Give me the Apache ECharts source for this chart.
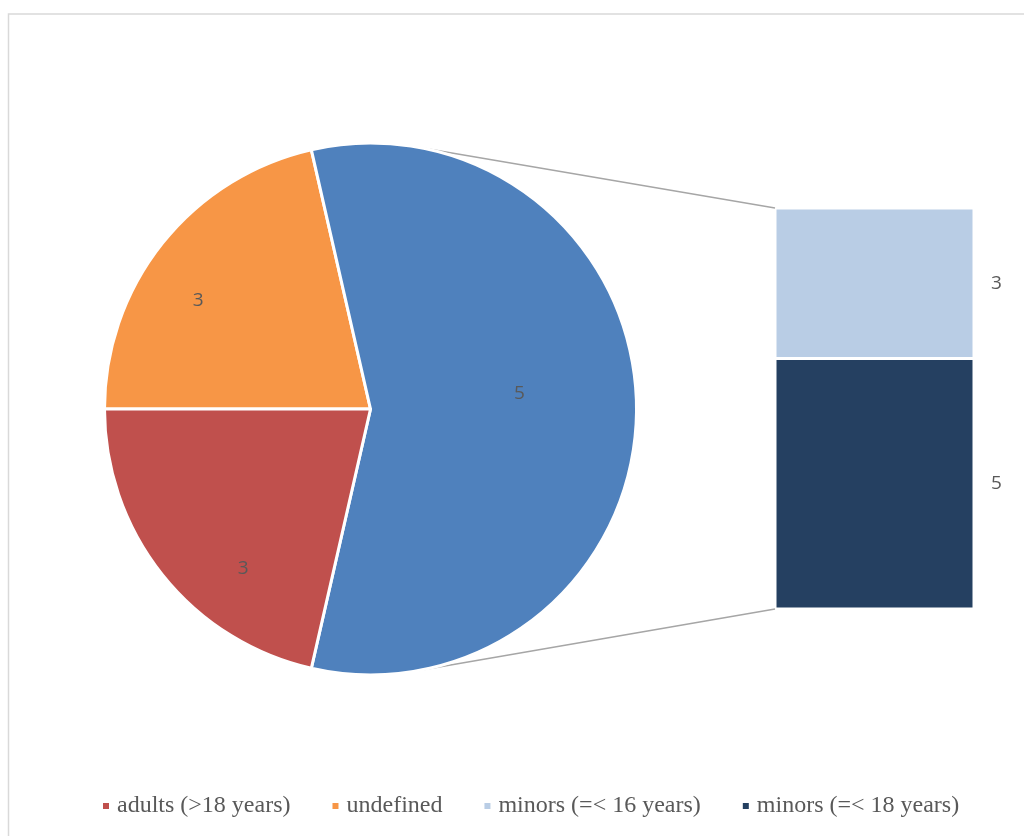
<!DOCTYPE html>
<html>
<head>
<meta charset="utf-8">
<script src="https://cdn.jsdelivr.net/npm/echarts@6/dist/echarts.min.js"></script>
<style>
html,body{margin:0;padding:0;background:#fff;}
#chart{width:1024px;height:836px;}
</style>
</head>
<body>
<div id="chart"></div>
<script>
// ---- data ----
const categories = ['adults (>18 years)', 'undefined', 'minors (=< 16 years)', 'minors (=< 18 years)'];
const values = [3, 3, 3, 5];
const colors = ['#C0504D', '#F79646', '#B9CDE5', '#254061'];
const otherColor = '#4F81BD';
// label Excel shows on the combined "other" slice
const otherLabel = '5';

// ---- layout ----
const pieCenter = [370.5, 409];
const pieRadius = 266;
const barGrid = {left: 775, top: 208, width: 199, height: 401};
const labelShift = [[-66, -24], [13, -15], [-21, 75]]; // per pie slice (orange, other, red)

const otherValue = values[2] + values[3];
const pieData = [
  {name: categories[1], value: values[1], itemStyle: {color: colors[1]}},
  {name: 'other', value: otherValue, itemStyle: {color: otherColor}, label: {formatter: otherLabel}},
  {name: categories[0], value: values[0], itemStyle: {color: colors[0]}}
];

// connector lines: tangents from bar corners to the pie circle
function tangent(P, up) {
  const dx = P[0] - pieCenter[0], dy = P[1] - pieCenter[1];
  const d = Math.sqrt(dx * dx + dy * dy);
  const phi = Math.atan2(dy, dx);
  const a = Math.acos(pieRadius / d);
  const t = up ? phi - a : phi + a;
  return [pieCenter[0] + pieRadius * Math.cos(t), pieCenter[1] + pieRadius * Math.sin(t)];
}
const Ptop = [barGrid.left, barGrid.top], Pbot = [barGrid.left, barGrid.top + barGrid.height];
const Ttop = tangent(Ptop, true), Tbot = tangent(Pbot, false);

const chart = echarts.init(document.getElementById('chart'));
const labelFont = {fontFamily: '"Open Sans", "Liberation Sans", sans-serif', fontSize: 19, color: '#595959'};

chart.setOption({
  animation: false,
  backgroundColor: '#fff',
  legend: {
    data: categories,
    left: 101, top: 794, padding: 0,
    icon: 'rect', itemWidth: 8, itemHeight: 8, itemGap: 40,
    textStyle: {fontFamily: '"Liberation Serif", "Times New Roman", serif', fontSize: 24, color: '#595959', padding: [0, 0, 0, 2]}
  },
  grid: {left: barGrid.left, top: barGrid.top, width: barGrid.width, height: barGrid.height, containLabel: false},
  xAxis: {type: 'category', data: ['minors'], show: false},
  yAxis: {type: 'value', min: 0, max: otherValue, show: false},
  graphic: [
    {type: 'rect', shape: {x: 8.5, y: 14, width: 1040, height: 860}, style: {fill: 'none', stroke: '#D9D9D9', lineWidth: 1.5}, z: 0, silent: true},
    {type: 'line', shape: {x1: Ttop[0], y1: Ttop[1], x2: Ptop[0], y2: Ptop[1]}, style: {stroke: '#A6A6A6', lineWidth: 1.5}, z: 1, silent: true},
    {type: 'line', shape: {x1: Tbot[0], y1: Tbot[1], x2: Pbot[0], y2: Pbot[1]}, style: {stroke: '#A6A6A6', lineWidth: 1.5}, z: 1, silent: true}
  ],
  series: [
    {
      type: 'pie', center: pieCenter, radius: pieRadius,
      startAngle: 180, clockwise: true, avoidLabelOverlap: false,
      data: pieData,
      itemStyle: {borderColor: '#fff', borderWidth: 3},
      label: Object.assign({show: true, position: 'inside', formatter: '{c}'}, labelFont),
      labelLine: {show: false},
      labelLayout: function (p) {
        const s = labelShift[p.dataIndex];
        return {dx: s[0], dy: s[1]};
      },
      emphasis: {disabled: true}, z: 3
    },
    {
      type: 'bar', name: categories[3], stack: 'm', barWidth: '100%',
      data: [values[3]],
      itemStyle: {color: colors[3], borderColor: '#fff', borderWidth: 1.5},
      label: Object.assign({show: true, position: 'right', distance: 17}, labelFont),
      z: 3
    },
    {
      type: 'bar', name: categories[2], stack: 'm', barWidth: '100%',
      data: [values[2]],
      itemStyle: {color: colors[2], borderColor: '#fff', borderWidth: 1.5},
      label: Object.assign({show: true, position: 'right', distance: 17}, labelFont),
      z: 3
    }
  ]
});
</script>
</body>
</html>
